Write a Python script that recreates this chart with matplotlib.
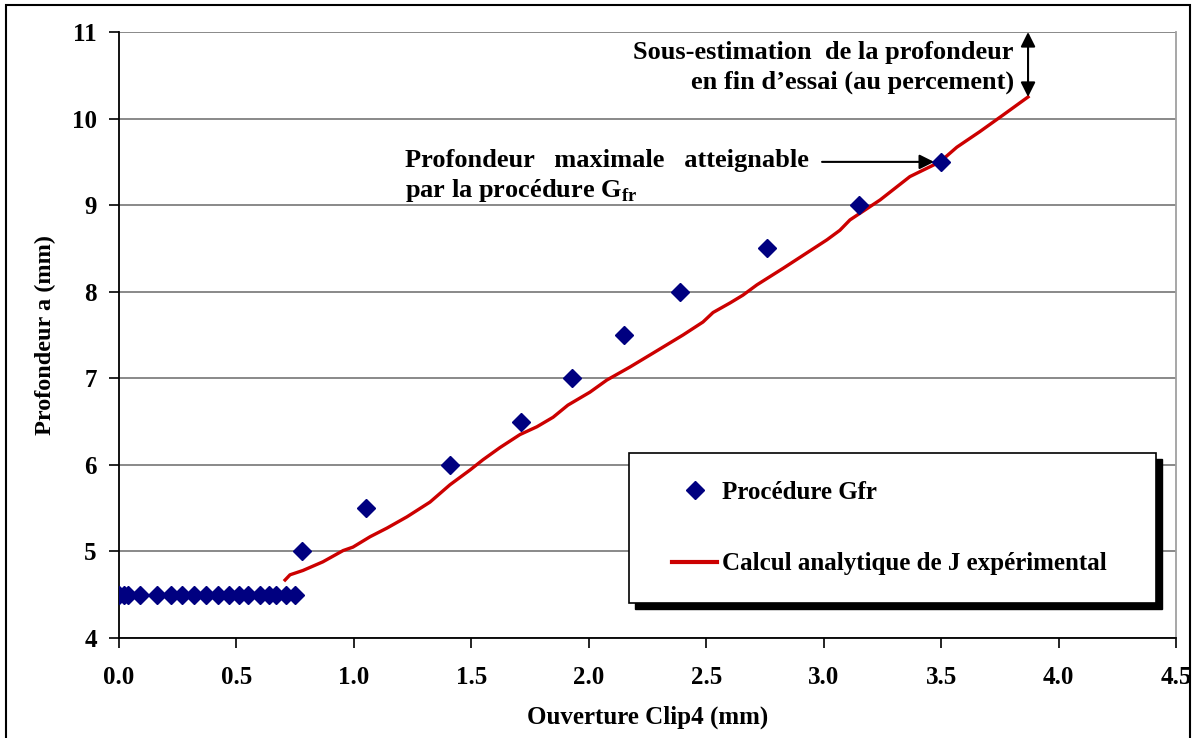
import matplotlib
matplotlib.use("Agg")
import matplotlib.pyplot as plt
from matplotlib.patches import Rectangle
from matplotlib.lines import Line2D

plt.rcParams['font.family'] = ['Liberation Serif', 'DejaVu Serif']
plt.rcParams['font.weight'] = 'bold'
plt.rcParams['mathtext.fontset'] = 'custom'
plt.rcParams['mathtext.rm'] = 'Liberation Serif:bold'
plt.rcParams['mathtext.bf'] = 'Liberation Serif:bold'

# Procédure Gfr (points)
gfr_x = [0.00, 0.02, 0.04, 0.09, 0.16, 0.22, 0.27, 0.32, 0.37, 0.42, 0.47,
         0.51, 0.55, 0.60, 0.64, 0.67, 0.71, 0.75,
         0.78, 1.05, 1.41, 1.71, 1.93, 2.15, 2.39, 2.76, 3.15, 3.50]
gfr_y = [4.5] * 18 + [5.0, 5.5, 6.0, 6.5, 7.0, 7.5, 8.0, 8.5, 9.0, 9.5]

# Calcul analytique de J expérimental (courbe)
j_x = [0.707, 0.728, 0.783, 0.868, 0.954, 0.996, 1.069, 1.141, 1.226, 1.324,
       1.409, 1.494, 1.550, 1.622, 1.707, 1.779, 1.848, 1.911,
       2.005, 2.077, 2.175, 2.273, 2.401, 2.486, 2.529, 2.601, 2.656, 2.716,
       2.827, 2.912, 3.014, 3.069, 3.112, 3.240, 3.367, 3.495,
       3.567, 3.665, 3.763, 3.870]
j_y = [4.67, 4.73, 4.78, 4.88, 5.01, 5.05, 5.17, 5.27, 5.40, 5.57,
       5.77, 5.94, 6.06, 6.20, 6.35, 6.44, 6.55, 6.69,
       6.84, 6.98, 7.13, 7.29, 7.50, 7.65, 7.76, 7.87, 7.96, 8.08,
       8.27, 8.42, 8.60, 8.71, 8.83, 9.06, 9.33, 9.50,
       9.67, 9.85, 10.04, 10.25]

x_ticks = [0.0, 0.5, 1.0, 1.5, 2.0, 2.5, 3.0, 3.5, 4.0, 4.5]
y_ticks = [4, 5, 6, 7, 8, 9, 10, 11]

navy = '#000080'
red = '#CC0000'

fig = plt.figure(figsize=(11.96, 7.38), dpi=100)
ax = fig.add_axes([0.0995, 0.1355, 0.8838, 0.8211])

# cadre extérieur
fig.patches.append(Rectangle((0.005, -0.02), 0.99, 1.013, transform=fig.transFigure,
                             fill=False, edgecolor='black', linewidth=1.5))

ax.set_xlim(0, 4.5)
ax.set_ylim(4, 11)
ax.set_xticks(x_ticks)
ax.set_xticklabels([f"{v:.1f}" for v in x_ticks])
ax.set_yticks(y_ticks)
ax.set_yticklabels([str(v) for v in y_ticks])
ax.tick_params(direction='out', length=7, width=1.2, labelsize=18)
ax.tick_params(axis='x', pad=13)
ax.tick_params(axis='y', pad=9)
for lab in ax.get_xticklabels() + ax.get_yticklabels():
    lab.set_fontweight('bold')

ax.grid(axis='y', color='#808080', linewidth=1.3)
ax.set_axisbelow(True)
ax.spines['left'].set_linewidth(1.3)
ax.spines['bottom'].set_linewidth(1.3)
ax.spines['top'].set_visible(False)
ax.spines['right'].set_color('#a0a0a0')
ax.spines['right'].set_linewidth(1.3)

ax.plot(j_x, j_y, color=red, linewidth=2.4, zorder=3)
ax.plot(gfr_x, gfr_y, linestyle='none', marker='D', markersize=9,
        color=navy, zorder=4)

ax.set_xlabel("Ouverture Clip4 (mm)", fontsize=18, fontweight='bold', labelpad=12)
ax.set_ylabel("Profondeur a (mm)", fontsize=17.5, fontweight='bold', labelpad=11)

# annotations
ax.text(3.81, 10.59, "Sous-estimation  de la profondeur\nen fin d\u2019essai (au percement)",
        ha='right', va='center', fontsize=19, fontweight='bold', multialignment='right',
        linespacing=1.38)
ax.annotate('', xy=(j_x[-1], 11.0), xytext=(j_x[-1], j_y[-1]),
            arrowprops=dict(arrowstyle='<|-|>', color='black', lw=1.5,
                            mutation_scale=22, shrinkA=0, shrinkB=0))

ax.text(1.218, 9.52, "Profondeur   maximale   atteignable", ha='left', va='center',
        fontsize=19, fontweight='bold')
ax.text(1.218, 9.17, r"par la procédure G$_{\mathrm{fr}}$", ha='left', va='center',
        fontsize=19, fontweight='bold')
ax.annotate('', xy=(3.47, 9.5), xytext=(2.993, 9.5),
            arrowprops=dict(arrowstyle='-|>', color='black', lw=1.5,
                            mutation_scale=22, shrinkA=0, shrinkB=0))

# légende avec ombre
bx, by, bw, bh = 0.4825, 0.0578, 0.4985, 0.2475
ax.add_patch(Rectangle((bx + 0.006, by - 0.01), bw, bh, transform=ax.transAxes,
                       facecolor='black', edgecolor='black', zorder=5, clip_on=False))
ax.add_patch(Rectangle((bx, by), bw, bh, transform=ax.transAxes,
                       facecolor='white', edgecolor='black', linewidth=1.2, zorder=6,
                       clip_on=False))
handles = [Line2D([], [], linestyle='none', marker='D', markersize=9, color=navy),
           Line2D([], [], color=red, linewidth=3)]
leg = ax.legend(handles, ["Procédure Gfr", "Calcul analytique de J expérimental"],
                loc='center left', bbox_to_anchor=(bx + 0.041, by + bh / 2),
                frameon=False, prop={'weight': 'bold', 'size': 18},
                handlelength=1.8, handletextpad=0.2, labelspacing=1.95,
                borderaxespad=0, borderpad=0)
leg.set_zorder(7)

fig.savefig("out.png", dpi=100)
